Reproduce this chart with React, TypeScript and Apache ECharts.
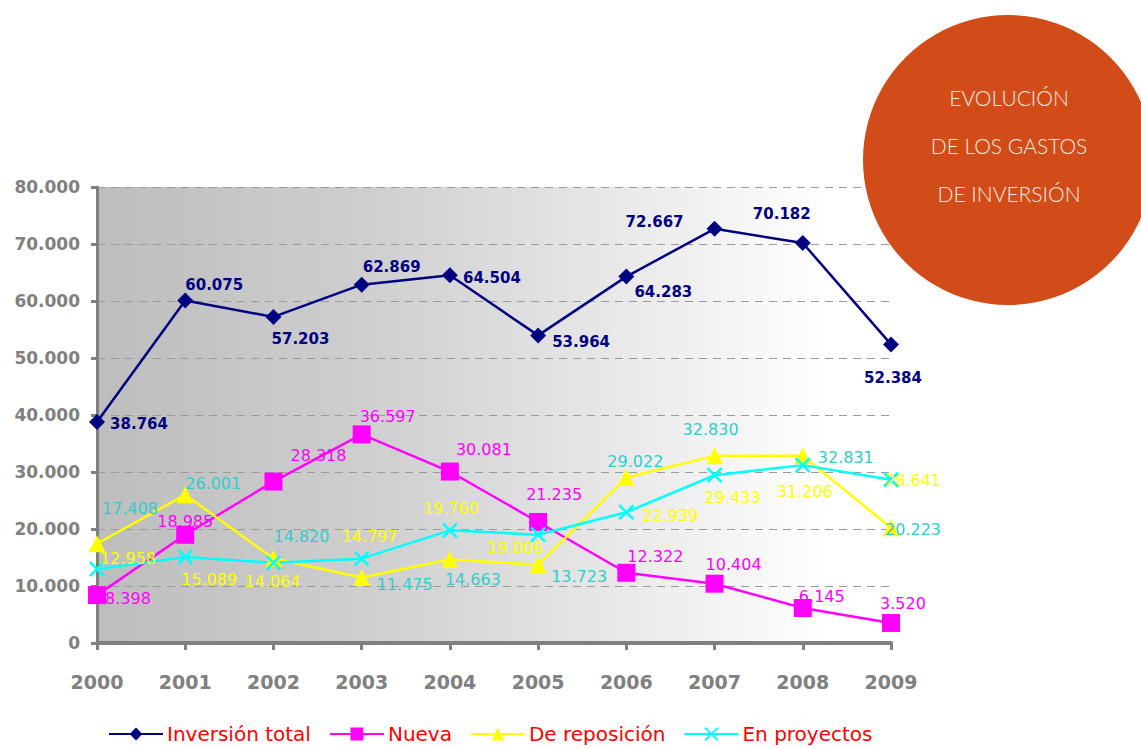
import React, { useEffect, useRef } from "react";
import * as echarts from "echarts";

const years = ["2000", "2001", "2002", "2003", "2004", "2005", "2006", "2007", "2008", "2009"];
const yTicks = ["0", "10.000", "20.000", "30.000", "40.000", "50.000", "60.000", "70.000", "80.000"];

const inversionTotal = [38764, 60075, 57203, 62869, 64504, 53964, 64283, 72667, 70182, 52384];
const nueva = [8398, 18985, 28318, 36597, 30081, 21235, 12322, 10404, 6145, 3520];
const deReposicion = [17408, 26001, 14820, 11475, 14663, 13723, 29022, 32830, 32831, 20223];
const enProyectos = [12958, 15089, 14064, 14797, 19760, 19006, 22939, 29433, 31206, 28641];

const seriesNames = ["Inversión total", "Nueva", "De reposición", "En proyectos"];
const titleLines = ["EVOLUCIÓN", "DE LOS GASTOS", "DE INVERSIÓN"];

// label offsets (styling, px relative to the point)
const offTotal = [[42, 2], [29, -16], [27, 22], [30, -18], [42, 3], [43, 7], [37, 15], [-60, -7], [-21, -29], [2, 34]];
const offNueva = [[31, 3], [0, -13], [45, -26], [26, -18], [34, -22], [16, -27], [29, -16], [19, -19], [19, -11], [12, -19]];
const offRepos = [[33, -35], [28, -11], [28, -22], [43, 7], [23, 20], [41, 12], [9, -16], [-4, -26], [43, 2], [22, 2]];
const offProy = [[31, -11], [24, 23], [-1, 19], [8, -22], [1, -22], [-23, 13], [44, 3], [18, 22], [2, 26], [22, 1]];

const fmt = (v: number) => {
  const s = String(v);
  return s.length > 3 ? s.slice(0, s.length - 3) + "." + s.slice(s.length - 3) : s;
};

const mk = (vals: number[], offs: number[][]) =>
  vals.map((v, i) => ({ value: v, label: { offset: offs[i] } }));

export default function App() {
  const ref = useRef<HTMLDivElement>(null);
  useEffect(() => {
    if (!ref.current) return;
    const chart = echarts.init(ref.current, undefined, { renderer: "svg" });
    const font = "DejaVu Sans";
    const labelBase = {
      show: true,
      position: "inside",
      fontFamily: font,
      fontSize: 16,
      textBorderWidth: 0,
      textBorderColor: "transparent",
      formatter: (p: any) => fmt(p.value),
    };
    chart.setOption({
      animation: false,
      backgroundColor: "#ffffff",
      grid: {
        left: 97,
        right: 250,
        top: 187,
        bottom: 106,
        show: true,
        borderWidth: 0,
        backgroundColor: {
          type: "linear",
          x: 0,
          y: 0,
          x2: 1,
          y2: 0,
          colorStops: [
            { offset: 0, color: "#bdbdbd" },
            { offset: 0.35, color: "#cfcfcf" },
            { offset: 0.7, color: "#ececec" },
            { offset: 0.92, color: "#ffffff" },
            { offset: 1, color: "#ffffff" },
          ],
        },
      },
      legend: {
        bottom: 0,
        left: 103,
        itemWidth: 54,
        itemHeight: 16,
        itemGap: 18,
        textStyle: { color: "#ff0000", fontSize: 20, fontFamily: font, padding: [0, 0, 0, -1] },
        data: seriesNames,
      },
      xAxis: {
        type: "category",
        data: years,
        boundaryGap: false,
        axisLine: { lineStyle: { color: "#808080", width: 4 } },
        axisTick: { show: true, length: 7, lineStyle: { color: "#808080", width: 3 } },
        axisLabel: { color: "#808080", fontSize: 19, fontWeight: "bold", fontFamily: font, margin: 29 },
        splitLine: { show: false },
      },
      yAxis: {
        type: "value",
        min: 0,
        max: 80000,
        interval: 10000,
        axisLine: { show: true, lineStyle: { color: "#808080", width: 3 } },
        axisTick: { show: true, length: 6, lineStyle: { color: "#808080", width: 3 } },
        axisLabel: {
          color: "#808080",
          fontSize: 17,
          fontWeight: "bold",
          fontFamily: font,
          margin: 17,
          formatter: (v: number) => yTicks[Math.round(v / 10000)],
        },
        splitLine: { show: true, lineStyle: { color: "#9a9a9a", width: 1, type: [8, 6] } },
      },
      series: [
        {
          name: seriesNames[0],
          type: "line",
          data: mk(inversionTotal, offTotal),
          symbol: "diamond",
          symbolSize: 16,
          lineStyle: { color: "#000080", width: 2.5 },
          itemStyle: { color: "#000080" },
          label: { ...labelBase, color: "#000080", fontWeight: "bold", fontSize: 15 },
        },
        {
          name: seriesNames[1],
          type: "line",
          data: mk(nueva, offNueva),
          symbol: "rect",
          symbolSize: 18,
          lineStyle: { color: "#ff00ff", width: 2.5 },
          itemStyle: { color: "#ff00ff" },
          label: { ...labelBase, color: "#ff00ff" },
        },
        {
          name: seriesNames[2],
          type: "line",
          data: mk(deReposicion, offRepos),
          symbol: "triangle",
          symbolSize: 17,
          lineStyle: { color: "#ffff00", width: 2.5 },
          itemStyle: { color: "#ffff00" },
          label: { ...labelBase, color: "#33cccc" },
        },
        {
          name: seriesNames[3],
          type: "line",
          data: mk(enProyectos, offProy),
          symbol: "path://M0,0L10,10M10,0L0,10",
          symbolSize: 14,
          lineStyle: { color: "#00ffff", width: 2.5 },
          itemStyle: { color: "#00ffff", borderColor: "#00ffff", borderWidth: 2.5 },
          label: { ...labelBase, color: "#ffff00" },
        },
      ],
      graphic: [
        {
          type: "circle",
          z: 100,
          shape: { cx: 1008, cy: 160, r: 145 },
          style: { fill: "#d24c1a" },
        },
        ...titleLines.map((t, i) => ({
          type: "text",
          z: 101,
          x: 1009,
          y: 97 + i * 48,
          style: {
            text: t,
            fill: "#fbe9df",
            fontSize: 21,
            fontFamily: "Lato",
            fontWeight: 300,
            align: "center",
            verticalAlign: "middle",
          },
        })),
      ],
    });
    return () => chart.dispose();
  }, []);
  return <div ref={ref} style={{ width: 1141, height: 749, position: "absolute", left: 0, top: 0 }} />;
}
